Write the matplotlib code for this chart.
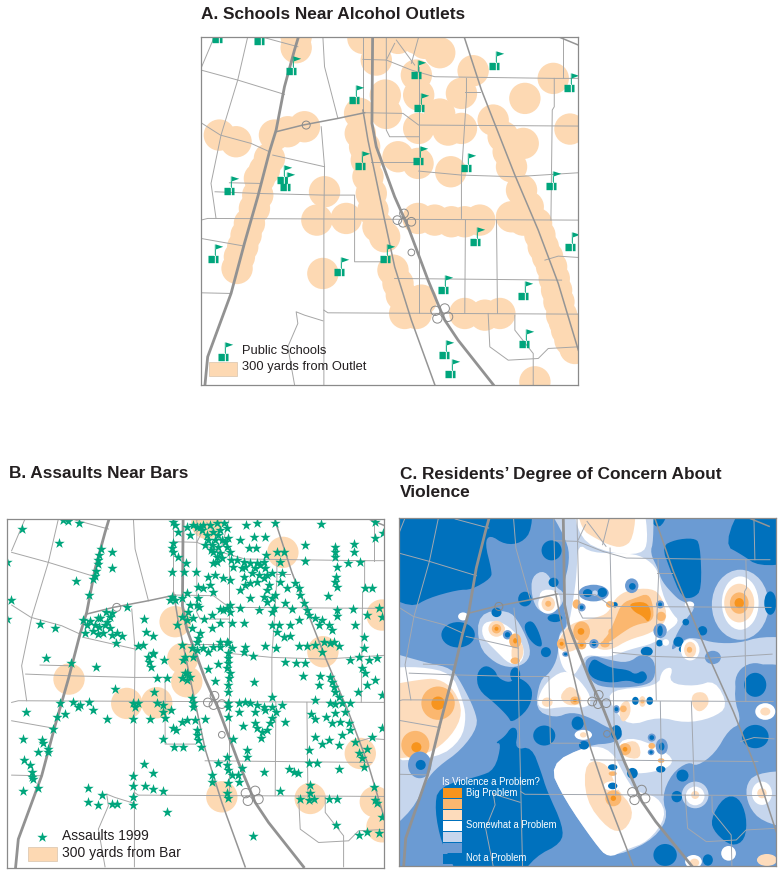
import numpy as np
import matplotlib
matplotlib.use("Agg")
import matplotlib.pyplot as plt
from matplotlib.patches import Circle, Ellipse, Polygon, Rectangle
from matplotlib.path import Path

plt.rcParams['font.family'] = ['Liberation Sans', 'DejaVu Sans']

# all map positions are in map units, 3 units = 1 pixel of the picture
# panel A units are used for the road network

highways = [
    [(312,110),(300,150),(270,260),(245,390),(225,455),(190,590),(150,730),(110,880),(40,1070),(32,1153)],
    [(534,110),(532,370),(545,440),(600,590),(640,680),(700,840),(750,960),(790,1020),(895,1153)],
]
mid_roads = [
    [(505,330),(520,420),(570,660),(600,800),(650,960),(720,1153)],
    [(808,110),(860,270),(960,525),(1030,690),(1090,850),(1150,1050)],
    [(1090,110),(1150,135)],
    [(245,395),(325,375),(430,355),(510,338)],
]
thin_roads = [
    [(20,210),(130,240),(270,283)],
    [(20,368),(78,405),(170,430),(225,455)],
    [(235,465),(390,500)],
    [(160,110),(130,240),(80,405),(50,550),(65,655)],
    [(60,110),(20,205)],
    [(210,113),(310,140)],
    [(385,110),(390,200),(430,355)],
    [(510,338),(625,340),(672,375),(1150,378)],
    [(380,380),(390,500),(388,660),(388,1153)],
    [(62,575),(190,580),(388,585),(480,585),(480,785),(570,785)],
    [(105,548),(195,550)],
    [(20,660),(40,655),(1150,660)],
    [(20,715),(150,738)],
    [(20,878),(110,880)],
    [(388,930),(400,938),(1150,942)],
    [(505,110),(505,330)],
    [(575,110),(575,390),(585,410),(672,410)],
    [(505,178),(575,180),(650,210),(720,230),(1080,235),(1150,235)],
    [(600,130),(575,180)],
    [(605,120),(660,195)],
    [(672,110),(650,190)],
    [(672,200),(672,940)],
    [(530,485),(672,485)],
    [(672,513),(800,525),(960,530),(1150,518)],
    [(815,235),(815,290),(800,525),(800,655)],
    [(812,275),(855,275)],
    [(1105,110),(1105,235)],
    [(1078,235),(1078,320),(1072,330),(1068,660)],
    [(812,660),(810,940)],
    [(905,660),(908,940)],
    [(600,835),(1100,840)],
    [(1050,780),(1090,768),(1150,772)],
    [(880,940),(885,1040),(940,1080),(1030,1075),(1060,1045),(1150,1040)],
    [(960,945),(960,990),(1015,1060),(1015,1153)],
    [(385,962),(330,945),(305,935),(310,970),(280,1040),(300,1153)],
]
loops = [(628,640,13),(608,660,13),(650,665,13),(625,668,13),(650,757,10),
         (750,925,14),(722,932,14),(728,955,14),(760,950,14),(335,375,12)]

# Panel A
outlet_buffers = [
    (305,143),(305,110),(505,115),(560,115),(545,180),(610,115),(665,115),(735,158),(690,130),
    (665,225),(672,285),(572,285),(575,340),(495,340),(672,385),(735,342),(760,390),
    (800,385),(800,280),(835,212),(895,360),(985,430),(925,410),(940,455),(950,500),(990,295),
    (1075,235),(1125,387),(75,405),(125,425),(240,405),(280,395),(330,380),(225,475),
    (210,510),(195,535),(190,585),(180,625),(165,670),(155,705),(145,740),(135,770),(128,805),
    (390,575),(367,660),(455,655),(385,820),(497,400),(510,440),(515,480),(520,530),(530,580),
    (535,630),(550,680),(570,710),(595,810),(610,850),(620,885),
    (630,940),(665,940),(680,900),(670,655),(720,660),(770,665),(810,665),(855,660),
    (950,650),(985,660),(980,570),(1000,620),(1025,670),(1035,705),(1045,740),(1058,770),(1070,800),
    (1078,835),(1085,870),(1092,905),(1100,945),(1108,965),(1115,990),(1125,1020),(1140,1045),
    (1020,1145),(810,940),(870,945),(915,940),(610,470),(670,490),(768,515),
]
schools = [
    (67,118),(195,123),(290,212),(478,299),(664,224),(898,199),(1121,263),(672,324),
    (495,497),(670,483),(813,505),(1068,557),(262,540),(272,562),(105,574),(57,777),
    (571,777),(840,727),(1124,742),(432,816),(744,871),(985,888),(988,1033),(748,1066),
    (765,1123),
]

# Panel B
bar_buffers = [(848,127),(620,40),(525,335),(548,445),(560,515),(207,507),(380,580),
               (470,578),(665,860),(930,865),(1080,730),(968,425),(1145,315),(1125,875),(1145,950)]
assaults = [
    (190,30),(205,33),(238,38),(65,58),(177,98),(303,118),(337,127),(298,135),(295,150),(293,162),
    (335,175),(288,183),(285,197),(227,213),(280,208),(268,255),(33,270),(22,328),(22,155),(382,290),
    (120,343),(165,355),(318,305),(335,310),(300,325),(330,322),(250,330),(270,332),(293,325),(322,335),
    (285,345),(262,345),(298,350),(315,345),(330,355),(350,368),(255,368),(280,362),(295,372),(310,370),
    (335,375),(367,378),(348,400),(433,328),(438,367),(460,378),(137,445),(212,460),(287,472),(415,407),
    (430,405),(458,428),(445,440),(460,432),(448,455),(452,472),(493,450),(345,538),(470,505),(500,503),
    (462,545),(470,580),(490,585),(512,600),(490,605),(495,625),(450,628),(400,628),(400,580),(415,578),
    (405,590),(322,628),(280,600),(268,577),(240,585),(235,590),(218,577),(180,578),(195,612),(172,620),
    (78,607),(160,658),(68,688),(125,690),(130,700),(115,725),(143,718),(145,725),(72,750),(90,765),
    (97,785),(95,800),(100,808),(68,842),(113,835),(263,833),(305,855),(263,877),(295,885),(335,883),
    (352,883),(400,797),(432,763),(460,788),(400,828),(435,828),(458,837),(488,842),(400,860),(400,885),
    (500,905),(758,978),(1007,945),(1075,975),(1100,967),(1135,968),(1145,920),
    (520,35),(525,45),(560,50),(578,45),(590,50),(610,45),(630,45),(650,40),(672,40),(680,55),
    (660,60),(640,65),(620,75),(600,50),(570,75),(535,65),(520,100),(515,115),(520,125),(625,90),
    (645,90),(665,90),(685,85),(615,105),(635,105),(655,110),(680,110),(690,125),(640,125),(660,130),
    (650,155),(640,160),(665,145),(692,150),(738,45),(770,40),(825,38),(963,42),(760,80),(793,82),
    (720,90),(745,115),(768,115),(798,135),(830,125),(850,125),(838,155),(913,105),(913,153),(1005,110),
    (1005,125),(1005,140),(1060,102),(1060,125),(1042,158),(1080,155),(1125,85),(1125,35),(1148,68),(1010,170),
    (1007,200),(1005,215),(1010,230),(1095,235),(1115,233),(983,257),(557,160),(517,187),(553,187),(587,185),
    (535,140),(710,150),(730,155),(750,158),(770,160),(790,155),(700,170),(735,170),(765,175),(780,165),
    (815,190),(800,195),(790,205),(770,215),(750,220),(730,200),(735,225),(645,195),(625,200),(670,205),
    (690,210),(630,225),(595,232),(610,235),(640,245),(595,265),(560,250),(590,285),(515,262),(525,270),
    (545,265),(510,270),(598,290),(565,305),(580,325),(612,328),(635,315),(660,298),(680,295),(720,295),
    (690,305),(670,300),(775,300),(750,265),(790,262),(800,275),(815,265),(825,255),(820,295),(815,305),
    (855,280),(875,297),(860,235),(840,215),(845,190),(885,220),(895,235),(900,255),(910,280),(920,300),
    (925,315),(895,330),(870,345),(835,345),(815,345),(830,365),(850,380),(870,378),(945,325),(965,330),
    (985,345),(995,360),(955,345),(1010,300),(1010,318),(1058,298),(1100,315),(1065,345),(1135,295),(1145,320),
    (1090,380),(1090,415),(1050,450),(1075,440),(1105,450),(1130,445),(1085,475),(1095,490),(1125,510),(1100,525),
    (1072,545),(1145,555),(1145,655),(545,320),(560,330),(530,345),(575,355),(635,355),(660,340),(695,338),
    (730,338),(600,370),(595,385),(590,395),(660,395),(680,395),(545,405),(575,415),(590,420),(610,415),
    (625,425),(640,410),(660,410),(685,400),(695,415),(685,430),(685,445),(685,460),(735,410),(730,425),
    (757,437),(795,408),(828,413),(895,408),(920,408),(945,405),(965,425),(990,400),(1015,408),(1000,395),
    (970,395),(853,455),(888,460),(915,458),(550,450),(555,490),(545,505),(560,510),(570,500),(560,490),
    (625,478),(655,462),(690,490),(645,512),(685,525),(685,545),(760,515),(908,497),(960,497),(955,525),
    (990,500),(995,515),(1000,530),(1005,545),(1015,560),(945,570),(575,565),(578,580),(580,590),(685,580),
    (685,590),(715,578),(735,575),(750,580),(770,585),(790,590),(815,560),(795,600),(815,590),(845,585),
    (828,605),(715,605),(765,605),(685,622),(560,630),(585,630),(615,628),(545,635),(520,655),(528,660),
    (590,660),(590,675),(595,690),(490,687),(522,710),(548,710),(603,712),(728,648),(765,640),(770,655),
    (785,665),(800,660),(810,640),(815,625),(855,637),(782,683),(700,687),(740,720),(740,740),(655,758),
    (682,740),(680,765),(685,780),(695,795),(712,795),(725,775),(715,815),(635,795),(635,815),(683,818),
    (682,850),(685,865),(790,785),(865,778),(880,785),(893,790),(925,760),(950,760),(925,720),(1015,778),
    (838,842),(930,825),(930,850),(900,868),(925,870),(940,868),(985,868),(1010,868),(1120,830),(1125,870),
    (1130,878),(933,612),(945,628),(978,622),(990,580),(1005,582),(1025,580),(1050,578),(1005,610),(1035,605),
    (1020,635),(1045,640),(1048,660),(1025,675),(995,640),(945,680),(965,703),(985,690),(1015,705),(1065,695),
    (1075,730),(1085,745),(1090,770),(1100,718),(1115,680),
    (605,60),(655,75),(632,120),(675,95),(650,140),(725,175),(755,190),(795,175),(775,195),(720,240),
    (800,240),(805,225),(690,285),(570,285),(555,440),(580,440),(682,475),(688,505),
]

# Panel C, class areas from Not a Problem (0) to Big Problem (6)
class_colors = ['#0071bd','#6b9bd3','#c6d6ed','#ffffff','#fddcbc','#fbb76f','#f7941d']
class_labels = {6:'Big Problem', 3:'Somewhat a Problem', 0:'Not a Problem'}

dark_areas = [
    [(-60,-60),(300,-60),(412,-60),(412,60),(380,100),(330,105),(285,75),(270,100),(290,180),(290,205),(230,240),(190,240),(100,265),(50,295),(-60,240)],
    [(750,-20),(830,-20),(800,55),(770,45)],
    [(985,105),(1050,-40),(1200,-40),(1200,160),(1090,170),(1040,135)],
    [(800,110),(840,90),(895,85),(915,100),(920,240),(895,265),(860,265),(825,180)],
    [(245,490),(270,465),(300,480),(310,505),(345,520),(365,500),(400,520),(415,550),(400,600),(350,640),(340,620),(300,580),(250,540)],
    [(350,650),(370,660),(360,720),(410,710),(440,790),(455,840),(505,950),(500,1000),(420,1040),(370,1110),(190,1110),(170,1050),(140,1000),(120,900),(130,830),(250,800),(300,780),(320,700),(300,700),(330,680)],
    [(945,930),(985,860),(1030,860),(1055,920),(1050,990),(1010,1010),(960,970)],
    [(385,345),(410,330),(430,360),(445,410),(425,410),(400,385)],
]
light_areas = [
    [(445,-30),(775,-30),(775,95),(765,130),(790,180),(800,215),(840,260),(860,275),(905,290),(870,330),(840,380),(825,430),(870,385),(905,385),(960,400),(1030,400),(1100,380),(1200,385),(1200,470),(1090,460),(1030,490),(1015,560),(1040,640),(1000,660),(960,730),(905,770),(880,755),(830,790),(800,860),(820,930),(760,1000),(640,1045),(600,1000),(510,870),(460,765),(580,705),(660,700),(690,670),(640,655),(590,625),(530,605),(480,625),(420,600),(435,510),(465,490),(490,440),(490,370),(520,350),(505,290),(505,230),(525,150),(515,90)],
    [(-40,420),(100,460),(170,475),(200,520),(240,600),(250,650),(200,720),(130,770),(95,810),(55,900),(-40,980)],
    [(410,200),(450,180),(480,230),(510,250),(500,290),(470,310),(430,305),(410,260)],
    [(250,310),(340,300),(375,340),(410,420),(395,460),(350,475),(300,460),(250,410)],
    [(1200,780),(1080,790),(1050,830),(1060,890),(1100,935),(1200,960)],
]
white_areas = [
    [(530,-30),(745,-30),(760,95),(740,135),(640,130),(555,90)],
    [(548,100),(590,130),(690,130),(745,140),(790,180),(800,250),(830,310),(855,335),(810,370),(780,400),(700,420),(650,440),(620,440),(570,435),(555,470),(535,500),(505,480),(490,430),(490,380),(520,350),(530,300),(545,200)],
    [(450,520),(505,480),(545,500),(590,560),(580,595),(510,590),(440,600),(425,575)],
    [(640,540),(790,530),(800,480),(835,470),(820,520),(900,530),(960,510),(1000,590),(950,625),(870,640),(790,620),(700,650),(650,590)],
    [(-40,475),(78,470),(170,490),(200,560),(215,620),(200,690),(130,745),(-40,755)],
    [(460,765),(580,705),(650,720),(690,800),(720,845),(790,860),(815,920),(760,995),(690,1020),(640,1045),(600,1000),(510,870)],
    [(430,240),(490,240),(500,290),(470,305),(440,300)],
    [(265,335),(320,335),(365,370),(390,420),(380,460),(345,465),(300,420),(260,380)],
    [(660,700),(720,680),(830,735),(830,770),(760,790),(700,790)],
]
pale_areas = [
    [(540,-30),(725,-30),(715,90),(680,115),(640,105),(600,85),(560,60)],
    [(-40,530),(70,510),(130,505),(180,540),(205,610),(170,680),(100,735),(-40,752)],
    [(525,340),(600,325),(640,310),(660,265),(700,240),(770,235),(800,260),(820,330),(770,370),(700,390),(650,420),(610,420),(580,390),(530,430),(490,420),(490,390)],
    [(570,750),(640,760),(660,830),(720,900),(690,965),(640,960),(570,870)],
    [(490,560),(530,520),(570,580),(520,590)],
    [(890,550),(930,545),(945,580),(915,610),(890,590)],
    [(350,400),(385,395),(385,450),(350,460)],
    [(290,345),(330,345),(330,370),(285,375)],
    [(670,590),(700,565),(710,610),(680,645)],
    [(680,700),(730,690),(740,750),(680,740)],
]
mid_orange_areas = [
    [(640,375),(660,330),(680,280),(720,265),(760,250),(775,290),(775,335),(720,345),(680,370),(640,400),(620,395)],
]
dark_orange_areas = [
    [(700,280),(755,275),(770,310),(760,340),(745,320),(715,305)],
]
# blue area below the centre, sits on top of the white
center_mid = [(565,460),(590,435),(640,450),(700,460),(740,430),(780,450),(780,510),(740,530),(640,535),(590,520)]
center_dark = [(580,470),(595,445),(620,460),(650,475),(700,480),(720,495),(745,480),(760,505),(735,525),(700,510),(650,520),(600,510),(580,490)]
# spots: x, y, x radius, y radius, class
spots = [
    (130,580,50,50,5),(130,580,20,20,6),(62,705,42,42,5),(65,712,15,15,6),(75,765,35,40,1),(78,765,15,15,0),
    (1035,285,85,105,2),(1035,280,55,80,3),(1032,280,45,58,4),(1032,280,28,32,5),(1032,280,14,15,6),(1125,280,18,35,0),
    (470,122,30,30,0),(476,218,15,14,0),(390,268,20,22,0),(305,308,15,14,0),(190,375,50,38,0),
    (453,427,15,15,0),(480,325,22,12,0),(361,495,15,22,0),(448,677,33,30,0),
    (548,640,18,20,0),(567,706,15,13,0),(664,668,16,22,0),(712,790,16,16,0),(862,797,18,18,0),
    (845,860,16,17,0),(810,1035,35,33,0),(938,1050,15,17,0),
    (1080,520,60,60,1),(1080,525,33,36,0),(1080,680,65,45,1),(1080,680,40,35,0),
    (1110,605,30,25,3),(1110,605,15,12,4),(900,855,40,40,2),(900,858,28,28,3),(900,855,12,12,4),
    (1100,850,30,35,3),(1100,850,14,15,4),(895,1055,25,20,3),(898,1058,14,12,4),
    (1000,1030,22,22,3),(1115,1050,30,18,4),(710,228,20,22,1),(712,230,10,10,0),(755,425,18,14,0),
    (596,250,45,25,1),(578,250,14,12,0),(622,248,14,14,0),(600,250,8,8,2),
    (460,282,30,30,3),(460,282,20,22,4),(460,282,9,9,5),
    (305,357,24,24,4),(305,357,14,14,5),(305,357,6,6,6),(338,375,14,14,1),(338,375,8,8,0),
    (361,393,18,22,5),(361,393,6,8,6),(361,453,14,10,5),(205,320,15,12,3),
    (560,365,25,30,5),(558,365,10,10,6),(500,402,14,16,5),(500,402,6,6,6),(560,405,14,14,5),
    (560,405,6,6,6),(630,403,14,10,5),(597,402,14,14,1),(597,402,7,7,0),(650,366,10,10,5),
    (545,283,12,14,5),(560,293,12,12,1),(560,293,6,6,0),(660,285,8,8,0),(645,284,12,10,5),
    (795,284,12,12,1),(795,284,6,6,0),(798,320,14,14,5),(795,363,20,22,1),(795,363,8,16,0),
    (793,400,10,10,0),(812,398,10,10,3),(850,396,15,15,0),(860,418,9,9,0),(922,363,14,14,0),
    (872,337,10,10,0),(885,420,28,32,3),(885,420,18,24,4),(883,420,8,9,5),(953,443,24,20,1),
    (883,285,14,10,3),(512,433,10,8,1),(512,433,5,4,0),
    (540,572,14,12,5),(540,572,6,5,6),(457,577,16,14,4),(685,597,10,10,5),(664,598,10,12,1),(664,598,6,6,0),
    (721,573,10,12,0),(742,575,10,16,4),(742,575,6,6,5),(764,573,10,12,0),
    (565,675,26,15,3),(565,675,10,8,4),(690,718,18,18,5),(690,718,7,7,6),
    (770,683,12,12,1),(770,683,7,7,0),(770,708,10,9,5),(768,727,10,9,1),(768,727,5,5,0),(800,710,18,24,1),(800,710,8,12,0),
    (798,752,30,16,3),(798,752,10,7,5),(797,778,14,10,0),(653,772,14,9,0),(653,791,12,7,5),
    (653,828,28,14,3),(653,828,14,10,0),(655,865,24,24,5),(655,865,8,8,6),
]

legend_title = 'Is Violence a Problem?'


def smooth(points, rounds=2):
    # corner cutting so the hand read outlines look like contours
    pts = np.array(points, dtype=float)
    for _ in range(rounds):
        nxt = np.roll(pts, -1, axis=0)
        pts = np.column_stack([0.75*pts + 0.25*nxt, 0.25*pts + 0.75*nxt]).reshape(-1, 2)
    return pts


def draw_roads(ax, dx=0, dy=0, shear=0, thin_color='#a6a6a6', zorder=3):
    def moved(line):
        arr = np.array(line, dtype=float)
        return arr[:, 0] + dx + shear*(arr[:, 1]-110), arr[:, 1] + dy
    for line in thin_roads:
        x, y = moved(line)
        ax.plot(x, y, color=thin_color, lw=0.7, zorder=zorder)
    for line in mid_roads:
        x, y = moved(line)
        ax.plot(x, y, color='#959595', lw=1.1, zorder=zorder)
    for line in highways:
        x, y = moved(line)
        ax.plot(x, y, color='#929292', lw=2.0, zorder=zorder)
    for lx, ly, r in loops:
        ax.add_patch(Circle((lx + dx + shear*(ly-110), ly + dy), r, fill=False,
                            ec='#8a8a8a', lw=0.7, zorder=zorder))


def panel(x0, y0, x1, y1, xlim, ylim):
    ax = fig.add_axes([x0/784, 1-y1/875, (x1-x0)/784, (y1-y0)/875])
    ax.set_xlim(*xlim)
    ax.set_ylim(*ylim)
    ax.set_xticks([])
    ax.set_yticks([])
    for s in ax.spines.values():
        s.set_color('#8a8a8a')
        s.set_linewidth(0.9)
        s.set_zorder(20)
    return ax


fig = plt.figure(figsize=(7.84, 8.75), dpi=100)

title_kw = dict(fontsize=12.4, fontweight='bold', color='#231f20', va='center')
fig.text(201/784, 1-14.5/875, 'A. Schools Near Alcohol Outlets', **title_kw)
fig.text(9/784, 1-473.5/875, 'B. Assaults Near Bars', **title_kw)
fig.text(400/784, 1-475/875, 'C. Residents’ Degree of Concern About', **title_kw)
fig.text(400/784, 1-493/875, 'Violence', **title_kw)

buffer_color = '#fdd9b3'
green = '#00a57c'
text_color = '#231f20'

# flag marker for the schools
flag = Path(
    [(-15,-11),(15,-11),(15,11),(-15,11),(-15,-11),
     (4,11),(7,11),(7,-45),(4,-45),(4,11),
     (7,-45),(29,-38),(7,-30),(7,-45)],
    [1,2,2,2,79, 1,2,2,2,79, 1,2,2,79])
flag = Path(flag.vertices*[1, -1], flag.codes)

# Panel A
ax = panel(201, 36.7, 578.3, 384.5, (20, 1150), (1153, 110))
for c in outlet_buffers:
    ax.add_patch(Circle(c, 47, fc=buffer_color, ec='none', zorder=1))
draw_roads(ax)
ax.scatter(*zip(*schools), marker=flag, s=470, c=green, linewidths=0, zorder=5)
ax.scatter([86], [1070], marker=flag, s=470, c=green, linewidths=0, zorder=5)
ax.add_patch(Rectangle((45, 1085), 83, 42, fc=buffer_color, ec='#d8c4ac', lw=0.5, zorder=6))
ax.text(143, 1052, 'Public Schools', fontsize=9.3, color=text_color, va='center', zorder=6)
ax.text(143, 1101, '300 yards from Outlet', fontsize=9.3, color=text_color, va='center', zorder=6)

# Panel B
ax = panel(7.3, 519, 384.3, 867.5, (22, 1152), (1072, 27))
for c in bar_buffers:
    ax.add_patch(Circle(c, 47, fc=buffer_color, ec='none', zorder=1))
draw_roads(ax, dx=15, dy=-83)
ax.scatter(*zip(*assaults), marker='*', s=62, c=green, linewidths=0, zorder=5)
ax.scatter([125], [982], marker='*', s=62, c=green, linewidths=0, zorder=5)
ax.add_patch(Rectangle((85, 1012), 85, 41, fc=buffer_color, ec='#d8c4ac', lw=0.5, zorder=6))
ax.text(187, 978, 'Assaults 1999', fontsize=10, color=text_color, va='center', zorder=6)
ax.text(187, 1028, '300 yards from Bar', fontsize=10, color=text_color, va='center', zorder=6)

# Panel C
ax = panel(399, 518, 776.3, 866, (13, 1143), (1068, 25))
ax.set_facecolor(class_colors[1])
layers = [(dark_areas, 0), (light_areas, 2), (white_areas, 3), (pale_areas, 4),
          (mid_orange_areas, 5), (dark_orange_areas, 6),
          ([center_mid], 1), ([center_dark], 0)]
order = 1
for areas, level in layers:
    for area in areas:
        ax.add_patch(Polygon(smooth(area), closed=True, fc=class_colors[level], ec='none', zorder=order))
    order += 1
for sx, sy, rx, ry, level in spots:
    ax.add_patch(Ellipse((sx, sy), 2*rx, 2*ry, fc=class_colors[level], ec='none', zorder=order))
    order += 0.01
draw_roads(ax, dx=-29, dy=-85, shear=0.023, thin_color='#a3a8b0', zorder=12)
ax.text(142, 815, legend_title, fontsize=6.9, color='white', va='center', zorder=14)
for i, level in enumerate(range(6, -1, -1)):
    ax.add_patch(Rectangle((145, 835+33*i), 56, 30, fc=class_colors[level], ec='none', zorder=13))
    if level in class_labels:
        ax.text(215, 849+32.5*i, class_labels[level], fontsize=6.85, color='white', va='center', zorder=14)

fig.savefig('out.png', dpi=100)
